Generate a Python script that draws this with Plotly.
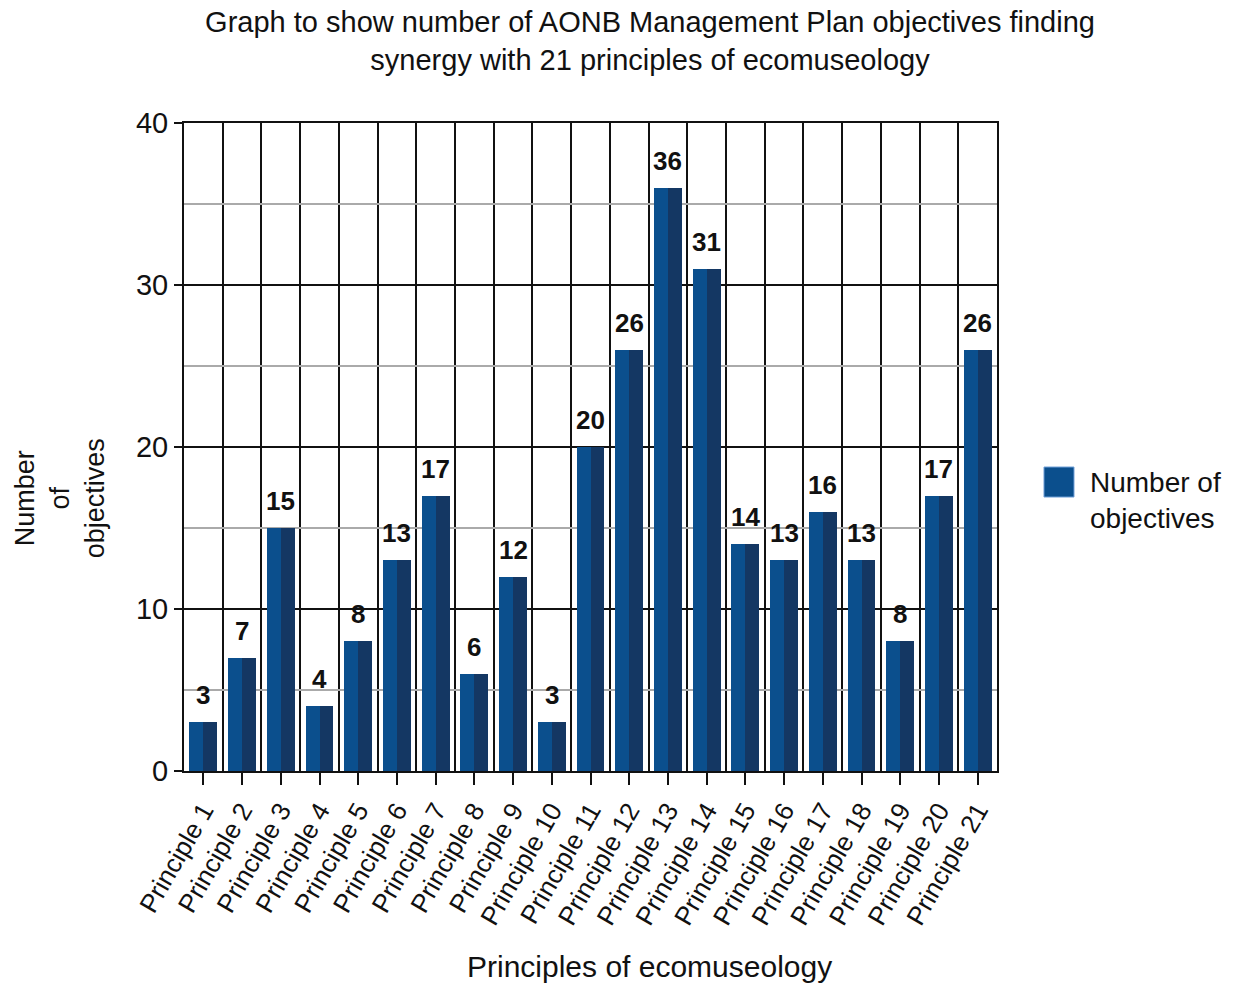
import plotly.graph_objects as go

categories = [f"Principle {i}" for i in range(1, 22)]
values = [3, 7, 15, 4, 8, 13, 17, 6, 12, 3, 20, 26, 36, 31, 14, 13, 16, 13, 8, 17, 26]
series_name = "Number of<br>objectives"
y_ticks = [0, 10, 20, 30, 40]

FONT = "Liberation Sans, Arial, sans-serif"
LIGHT = "#0b4f8d"
DARK = "#143763"

xpos = list(range(1, len(categories) + 1))

fig = go.Figure()
fig.add_trace(go.Bar(x=xpos, y=values, width=0.36, offset=-0.36,
                     marker=dict(color=LIGHT, line=dict(width=0)), showlegend=False,
                     hoverinfo="skip"))
fig.add_trace(go.Bar(x=xpos, y=values, width=0.36, offset=0,
                     marker=dict(color=DARK, line=dict(width=0)), showlegend=False,
                     hovertemplate="%{y}<extra></extra>"))

for xv, v in zip(xpos, values):
    fig.add_annotation(x=xv, y=v, xref="x", yref="y", text=f"<b>{v}</b>",
                       showarrow=False, yanchor="bottom", yshift=10,
                       font=dict(family=FONT, size=26, color="#111"))

# legend drawn in paper coordinates
fig.add_shape(type="rect", xref="paper", yref="paper",
              x0=1.0578, x1=1.0947, y0=0.4228, y1=0.4691,
              fillcolor=LIGHT, line=dict(color="#6f9fd8", width=1))
fig.add_annotation(xref="paper", yref="paper", x=1.1115, y=0.418,
                   xanchor="left", yanchor="middle", align="left",
                   text=series_name, showarrow=False,
                   font=dict(family=FONT, size=28, color="#111"))

# axis titles
fig.add_annotation(xref="paper", yref="paper", x=0.572, y=-0.302,
                   xanchor="center", yanchor="middle",
                   text="Principles of ecomuseology", showarrow=False,
                   font=dict(family=FONT, size=30, color="#111"))
fig.add_annotation(xref="paper", yref="paper", x=-0.1525, y=0.421,
                   xanchor="center", yanchor="middle", textangle=-90,
                   text="Number<br>of<br>objectives", showarrow=False,
                   font=dict(family=FONT, size=27, color="#111"))

fig.update_layout(
    width=1246, height=984,
    margin=dict(l=184, r=249, t=123, b=213),
    paper_bgcolor="white", plot_bgcolor="white",
    barmode="overlay", bargap=0,
    showlegend=False,
    font=dict(family=FONT, color="#111"),
    title=dict(text="Graph to show number of AONB Management Plan objectives finding<br>synergy with 21 principles of ecomuseology",
               x=0.5217, xref="container", xanchor="center",
               y=1 - 32 / 984, yref="container", yanchor="middle",
               font=dict(family=FONT, size=29, color="#111")),
    xaxis=dict(range=[0.5, len(categories) + 0.5], tickmode="array",
               tickvals=xpos, ticktext=categories, tickangle=-60,
               tickfont=dict(family=FONT, size=26, color="#111"),
               ticks="outside", ticklen=12, tickwidth=2, tickcolor="#111",
               showgrid=False, zeroline=False,
               showline=True, linecolor="#111", linewidth=2, mirror=True,
               minor=dict(tickmode="linear", tick0=0.5, dtick=1, ticklen=0,
                          showgrid=True, gridcolor="#111", gridwidth=2)),
    yaxis=dict(range=[y_ticks[0], y_ticks[-1]], tickmode="array", tickvals=y_ticks,
               tickfont=dict(family=FONT, size=29, color="#111"),
               ticks="outside", ticklen=8, tickwidth=2, tickcolor="#111",
               showgrid=True, gridcolor="#111", gridwidth=2, zeroline=False,
               showline=True, linecolor="#111", linewidth=2, mirror=True,
               minor=dict(tickmode="linear", tick0=0, dtick=5, ticklen=0,
                          showgrid=True, gridcolor="#aaaaaa", gridwidth=2)),
)

fig.write_html("out.html")
